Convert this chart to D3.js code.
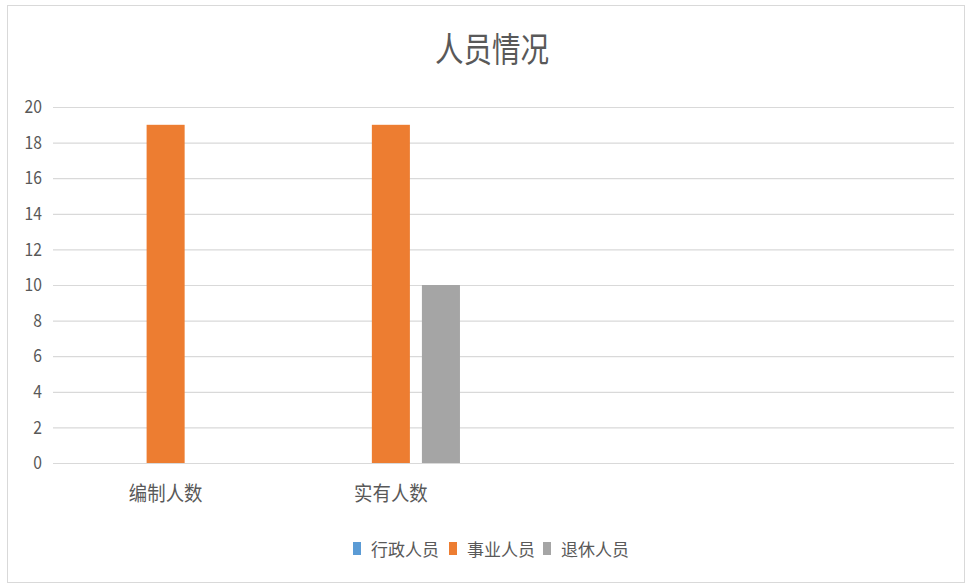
<!DOCTYPE html>
<html>
<head>
<meta charset="utf-8">
<script src="https://cdn.jsdelivr.net/npm/d3@7/dist/d3.min.js"></script>
<style>
  body { margin: 0; background: #fff; }
  text { font-family: "Noto Sans CJK SC", "Noto Sans", sans-serif; fill: #595959; }
</style>
</head>
<body>
<script>
// chart data
const categories = ["编制人数", "实有人数", "", ""];
const seriesNames = ["行政人员", "事业人员", "退休人员"];
const xingzheng = [0, 0, 0, 0];
const shiye = [19, 19, 0, 0];
const tuixiu = [0, 10, 0, 0];
const yTicks = [0, 2, 4, 6, 8, 10, 12, 14, 16, 18, 20];
const colors = ["#5B9BD5", "#ED7D31", "#A5A5A5"];

const values = [xingzheng, shiye, tuixiu];

let width = 968;
let height = 585;
let margin = {top: 107, right: 14, bottom: 122, left: 53};
let innerW = width - margin.left - margin.right;
let innerH = height - margin.top - margin.bottom;

let svg = d3.select("body")
    .append("svg")
    .attr("width", width)
    .attr("height", height);

// chart border
svg.append("rect")
    .attr("x", 7.5)
    .attr("y", 5.5)
    .attr("width", 957)
    .attr("height", 577)
    .attr("fill", "#fff")
    .attr("stroke", "#d9d9d9");

// title
svg.append("text")
    .attr("transform", "translate(492,62) scale(0.84,1)")
    .attr("text-anchor", "middle")
    .attr("font-size", 34)
    .text("人员情况");

let g = svg.append("g")
    .attr("transform", "translate(" + margin.left + "," + margin.top + ")");

let x0 = d3.scaleBand()
    .domain(d3.range(categories.length))
    .range([0, innerW]);

let x1 = d3.scaleBand()
    .domain(d3.range(seriesNames.length))
    .range([0, x0.bandwidth()])
    .paddingInner(0.24)
    .paddingOuter(0.87);

let y = d3.scaleLinear()
    .domain([0, 20])
    .range([innerH, 0]);

// gridlines + y labels
let yAxis = g.append("g")
    .call(d3.axisLeft(y).tickValues(yTicks).tickSize(-innerW).tickPadding(0));
yAxis.select(".domain").remove();
yAxis.selectAll(".tick line")
    .attr("stroke", "#d9d9d9")
    .attr("stroke-width", 1.2);
yAxis.selectAll(".tick text")
    .attr("x", 0)
    .attr("transform", "translate(-11,0) scale(0.87,1)")
    .attr("font-size", 18)
    .attr("font-family", "'Noto Sans', sans-serif")
    .attr("fill", "#595959");

// x labels
let xAxis = g.append("g")
    .attr("transform", "translate(0," + innerH + ")")
    .call(d3.axisBottom(x0).tickSize(0).tickFormat(i => categories[i]));
xAxis.select(".domain").remove();
xAxis.selectAll(".tick text")
    .attr("y", 0)
    .attr("dy", 0)
    .attr("transform", "translate(0,38) scale(0.92,1)")
    .attr("font-size", 20)
    .attr("font-family", "'Noto Sans CJK SC', sans-serif")
    .attr("fill", "#595959");

// bars
let groups = g.selectAll(".group")
    .data(categories.map((c, i) => i))
    .enter()
    .append("g")
    .attr("transform", i => "translate(" + x0(i) + ",0)");

groups.selectAll("rect")
    .data(i => values.map((s, k) => ({k: k, v: s[i]})))
    .enter()
    .append("rect")
    .attr("x", d => x1(d.k))
    .attr("width", x1.bandwidth())
    .attr("y", d => y(d.v))
    .attr("height", d => innerH - y(d.v))
    .attr("fill", d => colors[d.k]);

// legend
const legendX = [353, 449, 543];
let legend = svg.append("g");
seriesNames.forEach((name, k) => {
    legend.append("rect")
        .attr("x", legendX[k])
        .attr("y", 542)
        .attr("width", 8)
        .attr("height", 13)
        .attr("fill", colors[k]);
    legend.append("text")
        .attr("x", legendX[k] + 18)
        .attr("y", 556)
        .attr("font-size", 17)
        .text(name);
});
</script>
</body>
</html>
